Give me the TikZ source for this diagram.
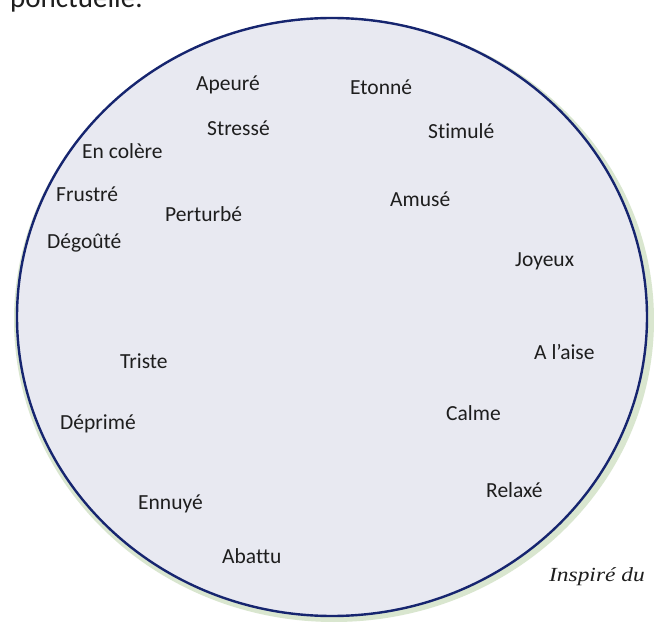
\documentclass[tikz,border=0pt]{standalone}
\usepackage{fontspec}
\setmainfont{Carlito}[Ligatures=NoCommon]
\newfontfamily\captionfont{Liberation Serif}
\definecolor{paper}{HTML}{E8E9F1}
\definecolor{rim}{HTML}{D9E6CF}
\definecolor{navy}{HTML}{16256F}
\definecolor{ink}{HTML}{1E1E1E}
\begin{document}
\begin{tikzpicture}[x=1pt,y=-1pt,
  word/.style={anchor=base west,inner sep=0pt,text=ink,font=\fontsize{21.5}{24}\selectfont}]
\useasboundingbox (0,0) rectangle (654,628);
\clip (0,0) rectangle (654,628);
\fill[white] (0,0) rectangle (654,628);
% paper rim and wheel
\fill[rim] (334,320) ellipse [x radius=320, y radius=302];
\fill[paper] (332,317) ellipse [x radius=316, y radius=300];
\draw[navy,line width=2.4pt] (332,317) ellipse [x radius=315, y radius=299];
% cut text at top
\node[anchor=base west,inner sep=0pt,text=ink,font=\fontsize{29}{32}\selectfont] (top) at (10,8) {ponctuelle.};
% emotions
\node[word] (apeure) at (196,91) {Apeuré};
\node[word] (etonne) at (350,95) {Etonné};
\node[word] (stresse) at (207,136) {Stressé};
\node[word] (stimule) at (428,139) {Stimulé};
\node[word] (colere) at (82,159) {En colère};
\node[word] (frustre) at (56,202) {Frustré};
\node[word] (perturbe) at (165,222) {Perturbé};
\node[word] (amuse) at (390,207) {Amusé};
\node[word] (degoute) at (47,249) {Dégoûté};
\node[word] (joyeux) at (515,267) {Joyeux};
\node[word] (triste) at (120,369) {Triste};
\node[word] (aise) at (534,360) {A l’aise};
\node[word] (deprime) at (60,430) {Déprimé};
\node[word] (calme) at (446,421) {Calme};
\node[word] (ennuye) at (138,509) {Ennuyé};
\node[word] (relaxe) at (486,497) {Relaxé};
\node[word] (abattu) at (222,563) {Abattu};
\node[anchor=base west,inner sep=0pt,text=ink,font=\captionfont\itshape\fontsize{20}{22}\selectfont] (source) at (549,581) {\scalebox{1.17}[1]{Inspiré du}};
\end{tikzpicture}
\end{document}
